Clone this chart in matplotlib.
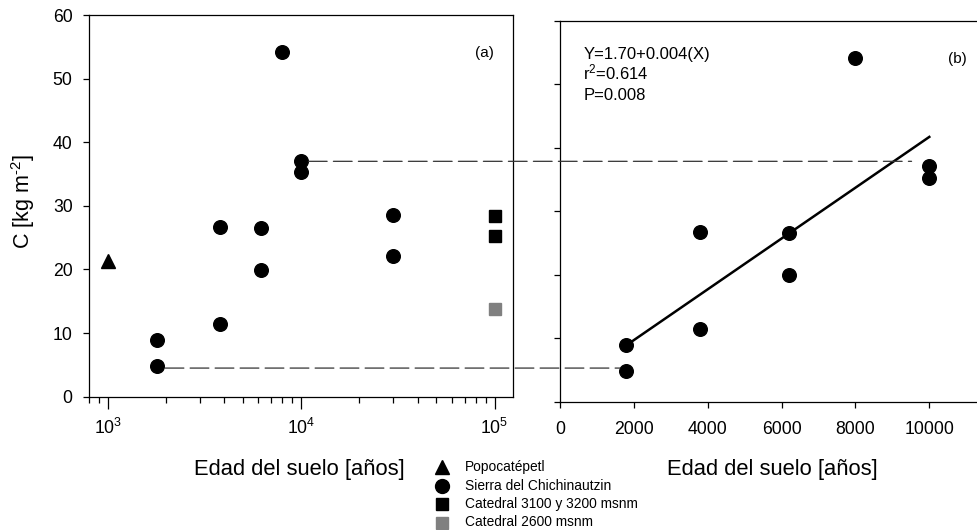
import numpy as np
import matplotlib
matplotlib.use('Agg')
import matplotlib.pyplot as plt
from matplotlib.patches import ConnectionPatch
from matplotlib.lines import Line2D
from matplotlib.transforms import blended_transform_factory

plt.rcParams['font.family'] = ['Liberation Sans', 'DejaVu Sans']
plt.rcParams['mathtext.fontset'] = 'custom'
plt.rcParams['mathtext.rm'] = 'Liberation Sans'
plt.rcParams['mathtext.it'] = 'Liberation Sans:italic'
plt.rcParams['mathtext.bf'] = 'Liberation Sans:bold'

# data
popo_age = [1000]
popo_c = [21.3]

sierra_age = [1800, 1800, 3800, 3800, 6200, 6200, 8000, 10000, 10000, 30000, 30000]
sierra_c = [8.9, 4.8, 26.7, 11.4, 26.5, 19.9, 54.2, 37.1, 35.3, 28.5, 22.1]

cat_high_age = [100000, 100000]
cat_high_c = [28.4, 25.2]

cat_low_age = [100000]
cat_low_c = [13.8]

# regression reported in panel (b)
fit_intercept = 1.70
fit_slope = 0.004
fit_range = [1800, 10000]

# horizontal guide lines (age on panel a, age on panel b, C)
guide_upper = (10900, 9520, 37.0)
guide_lower = (1980, 1620, 4.5)

legend_labels = ['Popocatépetl', 'Sierra del Chichinautzin',
                 'Catedral 3100 y 3200 msnm', 'Catedral 2600 msnm']

W, H = 977, 530
fig = plt.figure(figsize=(W / 100, H / 100), dpi=100)

ax1 = fig.add_axes([89 / W, 1 - 396.7 / H, (513.3 - 89) / W, (396.7 - 15) / H])
ax2 = fig.add_axes([560 / W, 1 - 401.7 / H, (984.7 - 560) / W, 381 / H])

ms = 9.8
gray = '#808080'

# (a)
ax1.plot(popo_age, popo_c, '^', color='black', ms=9.5, ls='none')
ax1.plot(sierra_age, sierra_c, 'o', color='black', ms=ms, ls='none')
ax1.plot(cat_high_age, cat_high_c, 's', color='black', ms=8, ls='none')
ax1.plot(cat_low_age, cat_low_c, 's', color=gray, ms=8, ls='none')
ax1.set_xscale('log')
ax1.set_xlim(800, 125000)
ax1.set_ylim(0, 60)
ax1.set_yticks(np.arange(0, 61, 10))
ax1.tick_params(axis='both', direction='out', labelsize=12.7, width=0.9)
ax1.tick_params(axis='x', which='major', length=8.6, pad=7)
ax1.tick_params(axis='x', which='minor', length=4.3, width=0.9)
ax1.tick_params(axis='y', length=4.3, pad=7.5)
ax1.text(0.955, 0.9, '(a)', transform=ax1.transAxes, ha='right', va='center', fontsize=11)

# (b)
age = np.array(sierra_age)
cval = np.array(sierra_c)
keep = age <= 10000
ax2.plot(age[keep], cval[keep], 'o', color='black', ms=ms, ls='none')
fx = np.array(fit_range)
ax2.plot(fx, fit_intercept + fit_slope * fx, color='black', lw=1.8)
ax2.set_xlim(0, 11500)
ax2.set_ylim(0, 60)
ax2.set_xticks(np.arange(0, 10001, 2000))
ax2.set_yticks(np.arange(0, 61, 10))
ax2.set_yticklabels([])
ax2.spines['right'].set_visible(False)
ax2.tick_params(axis='both', direction='out', labelsize=12.7, width=0.9, length=4.6)
ax2.tick_params(axis='x', pad=9)
ax2.text(0.958, 0.9, '(b)', transform=ax2.transAxes, ha='right', va='center', fontsize=11)

tx = (583.3 - 560) / (984.7 - 560)
ax2.text(tx, 1 - (58.5 - 20.7) / 381, 'Y=1.70+0.004(X)', transform=ax2.transAxes,
         ha='left', va='baseline', fontsize=12)
ax2.text(tx, 1 - (79.5 - 20.7) / 381, 'r$^{2}$=0.614', transform=ax2.transAxes,
         ha='left', va='baseline', fontsize=12)
ax2.text(tx, 1 - (100.5 - 20.7) / 381, 'P=0.008', transform=ax2.transAxes,
         ha='left', va='baseline', fontsize=12)

for ax in (ax1, ax2):
    for s in ax.spines.values():
        s.set_linewidth(0.9)

# dashed guides across both panels
for xa, xb, yv in (guide_upper, guide_lower):
    con = ConnectionPatch(xyA=(xa, yv), coordsA=ax1.transData,
                          xyB=(xb, yv), coordsB=blended_transform_factory(ax2.transData, ax1.transData),
                          color='#333333', lw=0.9, linestyle=(0, (15, 5)), zorder=0.5)
    fig.add_artist(con)

# labels
fig.text(23.3 / W, 1 - 201.7 / H, r'C [kg m$^{\text{-2}}$]', rotation=90, ha='center', va='center', fontsize=15.5)
fig.text(299 / W, 1 - 475 / H, 'Edad del suelo [años]', ha='center', va='baseline', fontsize=15.8)
fig.text(772 / W, 1 - 475 / H, 'Edad del suelo [años]', ha='center', va='baseline', fontsize=15.8)

# legend below
leg_markers = [('^', 'black', 9.5), ('o', 'black', 10), ('s', 'black', 8.5), ('s', gray, 8.5)]
leg_y = [467, 485.5, 504, 522.5]
for (mk, col, size), lab, yy in zip(leg_markers, legend_labels, leg_y):
    fig.add_artist(Line2D([442 / W], [1 - yy / H], marker=mk, color=col, ms=size,
                          ls='none', transform=fig.transFigure))
    fig.text(465 / W, 1 - yy / H, lab, ha='left', va='center', fontsize=9.9)

fig.savefig('out.png', dpi=100)
